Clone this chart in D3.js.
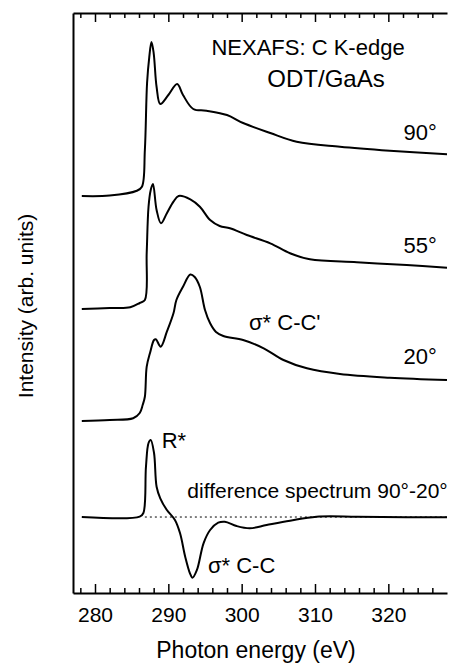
<!DOCTYPE html>
<html>
<head>
<meta charset="utf-8">
<script src="https://cdn.jsdelivr.net/npm/d3@7"></script>
<style>
  body { margin: 0; background: #fff; }
  svg text { font-family: "Liberation Sans", Arial, sans-serif; fill: #000; }
</style>
</head>
<body>
<svg id="chart" width="450" height="664"></svg>
<script>
// spectra: [photon energy eV, intensity (arb. units, already stacked)]
var spec90 = [[278.2,6.845],[282.0,6.853],[285.7,6.936],[286.4,7.005],[286.8,7.638],[287.1,8.793],[287.4,9.241],[287.7,9.5],[288.0,9.31],[288.4,8.724],[288.9,8.431],[290.0,8.586],[291.2,8.776],[292.0,8.586],[293.4,8.345],[295.2,8.316],[298.0,8.241],[300.2,8.103],[303.9,7.931],[307.5,7.781],[313.4,7.695],[320.2,7.626],[328.0,7.564]];
var spec55 = [[278.2,4.897],[282.0,4.914],[284.8,4.926],[286.1,5.0],[286.8,5.052],[287.05,5.862],[287.3,6.66],[287.6,6.948],[287.9,7.052],[288.4,6.603],[289.0,6.374],[289.8,6.547],[290.7,6.747],[291.4,6.845],[293.0,6.788],[294.3,6.66],[295.7,6.431],[297.0,6.328],[298.4,6.288],[300.7,6.172],[303.9,6.029],[306.6,5.857],[309.3,5.753],[315.7,5.702],[322.5,5.655],[328.0,5.609]];
var spec20 = [[278.2,2.966],[282.0,2.983],[285.2,3.012],[286.1,3.103],[286.5,3.241],[286.8,3.384],[287.05,3.902],[287.5,4.138],[288.05,4.362],[288.3,4.374],[288.96,4.247],[289.8,4.505],[290.7,4.822],[291.1,5.052],[292.0,5.281],[293.0,5.491],[293.6,5.448],[294.3,5.276],[295.0,4.879],[295.7,4.65],[296.5,4.5],[297.5,4.431],[300.2,4.362],[303.0,4.219],[305.7,4.017],[308.9,3.874],[313.4,3.776],[320.2,3.712],[328.0,3.672]];
var specDiff = [[278.2,1.31],[286.1,1.316],[286.6,1.379],[286.95,2.178],[287.3,2.586],[287.6,2.638],[288.05,2.414],[288.4,1.833],[288.9,1.633],[289.8,1.431],[290.9,1.259],[291.6,1.029],[292.3,0.626],[292.95,0.34],[293.3,0.264],[293.9,0.397],[294.8,0.857],[295.7,1.086],[296.8,1.212],[297.7,1.229],[299.3,1.155],[301.1,1.116],[303.4,1.172],[306.6,1.247],[310.2,1.316],[315.7,1.316],[322.5,1.305],[328.0,1.305]];
var diffZero = 1.31;
var zeroLineStart = 286.8;

var majorTicks = [280, 290, 300, 310, 320];
var minorTicks = [278, 282, 284, 286, 288, 292, 294, 296, 298, 302, 304, 306, 308, 312, 314, 316, 318, 322, 324, 326];

// text labels: [energy, intensity, text, anchor, font size]
var labels = [
  [309.05, 9.276, "NEXAFS: C K-edge", "middle", 22],
  [311.5, 8.72, "ODT/GaAs", "middle", 24],
  [326.6, 7.81, "90°", "end", 22],
  [326.6, 5.862, "55°", "end", 22],
  [326.6, 3.943, "20°", "end", 22],
  [301.0, 4.534, "σ* C-C'", "start", 22],
  [289.1, 2.495, "R*", "start", 22],
  [328.1, 1.638, "difference spectrum 90°-20°", "end", 21],
  [295.4, 0.34, "σ* C-C", "start", 22]
];

var W = 450, H = 664;
var margin = {top: 13, right: 3, bottom: 71, left: 73};

var svg = d3.select("#chart");
var x = d3.scaleLinear().domain([277, 328]).range([margin.left, W - margin.right]);
var y = d3.scaleLinear().domain([0, 10]).range([H - margin.bottom, margin.top]);

var line = d3.line()
    .x(d => x(d[0]))
    .y(d => y(d[1]))
    .curve(d3.curveCatmullRom.alpha(0.5));

// zero line of the difference spectrum
svg.append("line")
   .attr("x1", x(zeroLineStart)).attr("x2", x(328))
   .attr("y1", y(diffZero)).attr("y2", y(diffZero))
   .attr("stroke", "#000").attr("stroke-width", 1)
   .attr("stroke-dasharray", "2,3");

[spec90, spec55, spec20, specDiff].forEach(function(s) {
    svg.append("path")
       .datum(s)
       .attr("d", line)
       .attr("fill", "none")
       .attr("stroke", "#000")
       .attr("stroke-width", 2)
       .attr("stroke-linejoin", "round");
});

// bottom axis: major ticks with labels, pointing inside
var bottomAxis = svg.append("g").attr("transform", "translate(0," + (H - margin.bottom) + ")");
bottomAxis.call(d3.axisBottom(x).tickValues(majorTicks).tickSize(-9).tickSizeOuter(0).tickPadding(14));
bottomAxis.append("g").call(d3.axisBottom(x).tickValues(minorTicks).tickSize(-5).tickFormat("")).select(".domain").remove();
bottomAxis.selectAll("text").attr("font-size", 21).attr("font-family", "Liberation Sans, Arial, sans-serif");

// top axis: ticks only
var topAxis = svg.append("g").attr("transform", "translate(0," + margin.top + ")");
topAxis.call(d3.axisTop(x).tickValues(majorTicks).tickSize(-9).tickSizeOuter(0).tickFormat(""));
topAxis.append("g").call(d3.axisTop(x).tickValues(minorTicks).tickSize(-5).tickFormat("")).select(".domain").remove();

// left axis: plain line
var leftAxis = svg.append("g").attr("transform", "translate(" + margin.left + ",0)");
leftAxis.call(d3.axisLeft(y).tickValues([]).tickSizeOuter(0));

svg.selectAll(".domain").attr("stroke-width", 2);
svg.selectAll(".tick line").attr("stroke-width", 1.5);

// axis titles
svg.append("text")
   .attr("x", (margin.left + W - margin.right) / 2 - 4)
   .attr("y", 658)
   .attr("text-anchor", "middle")
   .attr("font-size", 23)
   .text("Photon energy (eV)");

svg.append("text")
   .attr("transform", "translate(33," + 306 + ") rotate(-90)")
   .attr("text-anchor", "middle")
   .attr("font-size", 21)
   .text("Intensity (arb. units)");

svg.selectAll("text.note")
   .data(labels)
   .enter()
   .append("text")
   .attr("class", "note")
   .attr("x", d => x(d[0]))
   .attr("y", d => y(d[1]))
   .attr("text-anchor", d => d[3])
   .attr("font-size", d => d[4])
   .text(d => d[2]);
</script>
</body>
</html>
